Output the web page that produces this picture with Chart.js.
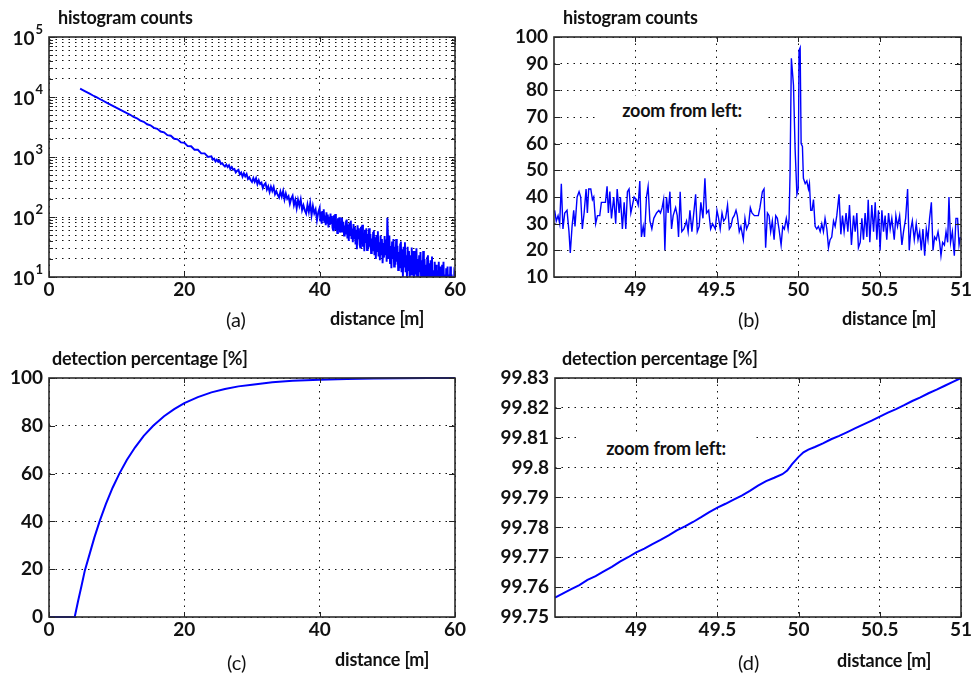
<!DOCTYPE html>
<html>
<head>
<meta charset="utf-8">
<script src="https://cdn.jsdelivr.net/npm/chart.js@4.4.0/dist/chart.umd.min.js"></script>
<style>
  html, body { margin: 0; padding: 0; background: #fff; }
  body { width: 976px; height: 675px; position: relative; overflow: hidden; font-family: Lato, "Open Sans", sans-serif; color: #111; }
  canvas { position: absolute; }
  .lbl { position: absolute; white-space: nowrap; font-weight: bold; font-size: 18px; line-height: 24px; height: 24px; letter-spacing: -0.2px; }
  .cap { font-weight: normal; font-size: 20px; letter-spacing: 0; }
  .note { background: #fff; text-align: center; }
</style>
</head>
<body>
<canvas id="chartA" width="488" height="337" style="left:0;top:0"></canvas>
<canvas id="chartB" width="488" height="337" style="left:488px;top:0"></canvas>
<canvas id="chartC" width="488" height="338" style="left:0;top:337px"></canvas>
<canvas id="chartD" width="488" height="338" style="left:488px;top:337px"></canvas>

<div class="lbl" style="left:58px;top:5px">histogram counts</div>
<div class="lbl" style="left:563px;top:5px">histogram counts</div>
<div class="lbl" style="left:52px;top:346px">detection percentage [%]</div>
<div class="lbl" style="left:562px;top:346px">detection percentage [%]</div>

<div class="lbl cap" style="left:226px;top:307px">(a)</div>
<div class="lbl" style="left:330px;top:306px">distance [m]</div>
<div class="lbl cap" style="left:738px;top:307px">(b)</div>
<div class="lbl" style="left:842px;top:306px">distance [m]</div>
<div class="lbl cap" style="left:227px;top:650px">(c)</div>
<div class="lbl" style="left:335px;top:647px">distance [m]</div>
<div class="lbl cap" style="left:738px;top:650px">(d)</div>
<div class="lbl" style="left:837px;top:648px">distance [m]</div>

<div class="lbl note" style="left:597px;top:96px;width:170px;height:28px;line-height:28px">zoom from left:</div>
<div class="lbl note" style="left:580px;top:434px;width:172px;height:28px;line-height:28px">zoom from left:</div>

<script>
// (a) histogram counts over the whole range, log scale
const distA = [
  4.6, 5, 5.5, 6, 6.5, 7, 7.5, 8, 8.5, 9, 9.5, 10, 10.5, 11, 11.5, 12, 12.5, 13, 13.5, 14,
  14.5, 15, 15.5, 16, 16.5, 17, 17.5, 18, 18.5, 19, 19.5, 20, 20.5, 21, 21.5, 22, 22.5, 23, 23.5,
  24, 24.2, 24.4, 24.6, 24.8, 25, 25.2, 25.4, 25.6, 25.8,
  26, 26.2, 26.4, 26.6, 26.8, 27, 27.2, 27.4, 27.6, 27.8,
  28, 28.2, 28.4, 28.6, 28.8, 29, 29.2, 29.4, 29.6, 29.8,
  30, 30.2, 30.4, 30.6, 30.8, 31, 31.2, 31.4, 31.6, 31.8,
  32, 32.2, 32.4, 32.6, 32.8, 33, 33.2, 33.4, 33.6, 33.8,
  34, 34.2, 34.4, 34.6, 34.8, 35, 35.2, 35.4, 35.6, 35.8,
  36, 36.2, 36.4, 36.6, 36.8, 37, 37.2, 37.4, 37.6, 37.8,
  38, 38.2, 38.4, 38.6, 38.8, 39, 39.2, 39.4, 39.6, 39.8,
  40, 40.1, 40.2, 40.3, 40.4, 40.5, 40.6, 40.7, 40.8, 40.9, 41, 41.1, 41.2, 41.3, 41.4, 41.5, 41.6, 41.7, 41.8, 41.9,
  42, 42.1, 42.2, 42.3, 42.4, 42.5, 42.6, 42.7, 42.8, 42.9, 43, 43.1, 43.2, 43.3, 43.4, 43.5, 43.6, 43.7, 43.8, 43.9,
  44, 44.1, 44.2, 44.3, 44.4, 44.5, 44.6, 44.7, 44.8, 44.9, 45, 45.1, 45.2, 45.3, 45.4, 45.5, 45.6, 45.7, 45.8, 45.9,
  46, 46.1, 46.2, 46.3, 46.4, 46.5, 46.6, 46.7, 46.8, 46.9, 47, 47.1, 47.2, 47.3, 47.4, 47.5, 47.6, 47.7, 47.8, 47.9,
  48, 48.1, 48.2, 48.3, 48.4, 48.5, 48.6, 48.7, 48.8, 48.9, 49, 49.1, 49.2, 49.3, 49.4, 49.5, 49.6, 49.7, 49.8, 49.9,
  50, 50.1, 50.2, 50.3, 50.4, 50.5, 50.6, 50.7, 50.8, 50.9, 51, 51.1, 51.2, 51.3, 51.4, 51.5, 51.6, 51.7, 51.8, 51.9,
  52, 52.1, 52.2, 52.3, 52.4, 52.5, 52.6, 52.7, 52.8, 52.9, 53, 53.1, 53.2, 53.3, 53.4, 53.5, 53.6, 53.7, 53.8, 53.9,
  54, 54.1, 54.2, 54.3, 54.4, 54.5, 54.6, 54.7, 54.8, 54.9, 55, 55.1, 55.2, 55.3, 55.4, 55.5, 55.6, 55.7, 55.8, 55.9,
  56, 56.1, 56.2, 56.3, 56.4, 56.5, 56.6, 56.7, 56.8, 56.9, 57, 57.1, 57.2, 57.3, 57.4, 57.5, 57.6, 57.7, 57.8, 57.9,
  58, 58.1, 58.2, 58.3, 58.4, 58.5, 58.6, 58.7, 58.8, 58.9, 59, 59.1, 59.2, 59.3, 59.4, 59.5, 59.6, 59.7, 59.8, 59.9,
  60
];
const countsA = [
  13800, 13050, 12200, 11400, 10600, 9920, 9270, 8650, 8080, 7550, 7050, 6590, 6150, 5750, 5370, 5050, 4640, 4410, 4040, 3860,
  3510, 3380, 3060, 2950, 2660, 2580, 2310, 2260, 2010, 1970, 1750, 1730, 1520, 1510, 1320, 1320, 1150, 1150, 1000,
  1022, 907, 940, 843, 905, 833, 873, 766, 789, 733,
  693, 748, 679, 728, 630, 681, 618, 631, 553, 589,
  610, 512, 551, 471, 536, 476, 522, 431, 459, 415,
  385, 445, 385, 441, 352, 408, 354, 373, 305, 345,
  367, 286, 324, 260, 320, 272, 316, 240, 268, 233,
  211, 266, 218, 270, 196, 247, 202, 222, 167, 203,
  226, 158, 193, 140, 194, 154, 196, 131, 157, 129,
  114, 161, 122, 169, 107, 152, 115, 134, 89, 120,
  142, 84, 122, 77, 126, 90, 135, 80, 106, 73, 120, 80, 110, 67, 101, 74, 114, 79, 104, 66,
  60, 107, 67, 112, 61, 88, 54, 95, 67, 99, 55, 84, 57, 97, 59, 83, 49, 72, 51, 84,
  91, 44, 75, 40, 79, 50, 87, 43, 64, 38, 76, 44, 68, 35, 61, 29, 73, 44, 65, 35,
  31, 69, 36, 74, 32, 54, 27, 61, 37, 65, 28, 52, 30, 65, 32, 52, 25, 44, 27, 54,
  60, 23, 46, 20, 50, 27, 58, 22, 38, 19, 49, 24, 43, 17, 37, 21, 48, 24, 42, 18,
  97, 45, 20, 49, 17, 33, 14, 39, 20, 43, 15, 32, 16, 43, 18, 33, 13, 26, 14, 35,
  39, 12, 29, 10, 32, 15, 38, 12, 23, 9.9, 32, 13, 27, 8.8, 23, 11, 31, 13, 27, 9.3,
  8.6, 27, 11, 30, 9.3, 20, 7.3, 23, 12, 26, 8, 19, 8.9, 27, 10, 20, 6.9, 16, 7.7, 21,
  23, 6.9, 17, 5.8, 19, 8.6, 22, 6.8, 13, 5.7, 18, 7.4, 16, 5.1, 13, 6.5, 18, 7.8, 15, 5.4,
  4.9, 16, 6.3, 18, 5.4, 11, 4.2, 14, 6.7, 15, 4.6, 11, 5.2, 15, 5.8, 11, 4, 9, 4.4, 12,
  11
];

// (b) histogram counts, zoom 48.5 .. 51 m
const distB = [
  48.504, 48.514, 48.525, 48.535, 48.545, 48.555, 48.566, 48.580, 48.592, 48.600,
  48.611, 48.621, 48.629, 48.642, 48.654, 48.664, 48.674, 48.685, 48.697, 48.705,
  48.713, 48.726, 48.736, 48.744, 48.756, 48.767, 48.781, 48.791, 48.804, 48.816,
  48.826, 48.834, 48.843, 48.853, 48.867, 48.879, 48.888, 48.900, 48.908, 48.920,
  48.931, 48.941, 48.951, 48.961, 48.972, 48.982, 48.992, 49.007, 49.017, 49.027,
  49.037, 49.048, 49.056, 49.068, 49.078, 49.089, 49.101, 49.113, 49.130, 49.144,
  49.154, 49.164, 49.173, 49.181, 49.191, 49.201, 49.212, 49.222, 49.232, 49.247,
  49.257, 49.265, 49.275, 49.285, 49.298, 49.314, 49.324, 49.335, 49.347, 49.357,
  49.370, 49.380, 49.392, 49.402, 49.415, 49.427, 49.437, 49.450, 49.462, 49.474,
  49.491, 49.501, 49.511, 49.521, 49.532, 49.542, 49.554, 49.566, 49.577, 49.587,
  49.597, 49.607, 49.618, 49.626, 49.638, 49.648, 49.663, 49.673, 49.683, 49.696,
  49.706, 49.716, 49.731, 49.745, 49.755, 49.765, 49.780, 49.790, 49.800, 49.811,
  49.821, 49.831, 49.841, 49.852, 49.862, 49.872, 49.882, 49.895, 49.905, 49.915,
  49.927, 49.938, 49.944, 49.950, 49.958, 49.971, 49.981, 49.992, 50.000, 50.005,
  50.012, 50.018, 50.026, 50.032, 50.043, 50.053, 50.063, 50.069, 50.077, 50.085,
  50.094, 50.104, 50.114, 50.124, 50.135, 50.145, 50.155, 50.165, 50.176, 50.186,
  50.196, 50.206, 50.217, 50.227, 50.237, 50.251, 50.262, 50.272, 50.282, 50.294,
  50.305, 50.315, 50.327, 50.340, 50.350, 50.360, 50.370, 50.381, 50.391, 50.401,
  50.411, 50.422, 50.430, 50.440, 50.452, 50.463, 50.473, 50.483, 50.493, 50.503,
  50.514, 50.524, 50.534, 50.544, 50.555, 50.565, 50.575, 50.590, 50.600, 50.610,
  50.623, 50.637, 50.647, 50.660, 50.672, 50.682, 50.692, 50.701, 50.713, 50.725,
  50.736, 50.746, 50.756, 50.766, 50.777, 50.787, 50.797, 50.807, 50.818, 50.828,
  50.838, 50.848, 50.859, 50.869, 50.877, 50.887, 50.898, 50.908, 50.918, 50.926,
  50.936, 50.947, 50.959, 50.969, 50.979, 50.988, 50.996
];
const countsB = [
  35, 31, 33, 30, 45, 28, 34, 35, 27, 19,
  29, 35, 29, 40, 42, 40, 28, 34, 43, 34,
  43, 43, 39, 40, 30, 33, 33, 38, 38, 38,
  44, 34, 42, 32, 40, 30, 43, 34, 40, 28,
  38, 28, 42, 43, 34, 37, 40, 39, 37, 46,
  25, 29, 25, 40, 44, 31, 28, 32, 34, 35,
  34, 36, 39, 20, 40, 34, 42, 28, 33, 36,
  33, 25, 42, 27, 28, 31, 27, 35, 27, 33,
  41, 27, 29, 38, 32, 47, 34, 35, 28, 30,
  28, 35, 32, 28, 34, 31, 32, 37, 28, 29,
  32, 33, 35, 33, 27, 29, 24, 32, 28, 30,
  36, 34, 33, 33, 33, 36, 42, 43, 21, 34,
  33, 27, 31, 24, 33, 32, 28, 22, 29, 28,
  32, 28, 32, 49, 92, 82, 58, 41, 43, 95,
  96, 60, 59, 47, 45, 46, 43, 45, 35, 35,
  39, 29, 28, 29, 27, 30, 27, 32, 28, 21,
  24, 25, 31, 29, 33, 41, 26, 33, 27, 34,
  27, 37, 22, 33, 27, 34, 21, 23, 32, 24,
  34, 25, 39, 23, 37, 27, 38, 24, 35, 20,
  35, 27, 33, 24, 34, 28, 32, 24, 33, 29,
  33, 22, 27, 32, 43, 20, 28, 31, 24, 30,
  24, 27, 20, 28, 18, 28, 24, 32, 38, 20,
  25, 24, 27, 23, 18, 23, 22, 27, 23, 40,
  23, 27, 18, 32, 32, 22, 25
];

// (c) cumulative detection percentage
const distC = [0, 3.8, 4.3, 4.8, 5.3, 6, 6.7, 7.5, 8.4, 9.4, 10.4, 11.5, 12.7, 14, 15.4, 17, 18.5, 20,
  22, 24, 26, 28, 30, 33, 36, 40, 44, 48, 52, 56, 60];
const percentC = [0, 0, 6.7, 13, 19.5, 26.3, 33.2, 40.2, 47.2, 54.1, 60, 65.7, 70.9, 75.8, 80, 84, 87, 89.5,
  92, 94, 95.4, 96.5, 97.2, 98.2, 98.9, 99.3, 99.6, 99.8, 99.9, 99.95, 100];

// (d) detection percentage, zoom 48.5 .. 51 m
const distD = [48.5, 48.55, 48.6, 48.65, 48.7, 48.75, 48.8, 48.85, 48.9, 48.95,
  49, 49.05, 49.1, 49.15, 49.2, 49.25, 49.3, 49.35, 49.4, 49.45,
  49.5, 49.55, 49.6, 49.65, 49.7, 49.75, 49.8, 49.85, 49.9, 49.93,
  49.96, 50, 50.03, 50.06, 50.1, 50.15, 50.2, 50.25, 50.3, 50.35,
  50.4, 50.45, 50.5, 50.55, 50.6, 50.65, 50.7, 50.75, 50.8, 50.85,
  50.9, 50.95, 51];
const percentD = [99.7565, 99.7579, 99.7593, 99.7607, 99.7624, 99.7637, 99.7653, 99.7668, 99.7685, 99.7700,
  99.7716, 99.7729, 99.7744, 99.7758, 99.7773, 99.7790, 99.7803, 99.7818, 99.7834, 99.7851,
  99.7866, 99.7879, 99.7893, 99.7906, 99.7922, 99.7940, 99.7955, 99.7966, 99.7978, 99.7990,
  99.8012, 99.8036, 99.8051, 99.8060, 99.8069, 99.8081, 99.8095, 99.8106, 99.8119, 99.8132,
  99.8145, 99.8157, 99.8171, 99.8184, 99.8196, 99.8209, 99.8223, 99.8235, 99.8249, 99.8261,
  99.8274, 99.8287, 99.8300];

// tick positions and labels
const xTicksWide = [0, 20, 40, 60];
const xLabelsWide = ['0', '20', '40', '60'];
const xTicksZoom = [49, 49.5, 50, 50.5, 51];
const xLabelsZoom = ['49', '49.5', '50', '50.5', '51'];
const yExpA = [1, 2, 3, 4, 5];
const yTicksB = [10, 20, 30, 40, 50, 60, 70, 80, 90, 100];
const yTicksC = [0, 20, 40, 60, 80, 100];
const yTicksD = [99.75, 99.76, 99.77, 99.78, 99.79, 99.8, 99.81, 99.82, 99.83];
const yLabelsD = ['99.75', '99.76', '99.77', '99.78', '99.79', '99.8', '99.81', '99.82', '99.83'];

const BLUE = '#0000ff';
const FONT = 'Lato, "Open Sans", sans-serif';
const tickFont = {family: FONT, size: 19, weight: 'bold'};

// minor grid for the log axis: 1..9 times each decade
const yTicksA = [];
for (const e of yExpA) {
  for (let m = 1; m <= 9; m++) {
    if (e === yExpA[yExpA.length - 1] && m > 1) break;
    yTicksA.push(m * Math.pow(10, e));
  }
}

function pairs(xs, ys) {
  return xs.map((x, i) => ({x: x, y: ys[i]}));
}

function axis(type, min, max, tickValues, labels, size, isY) {
  return {
    type: type,
    min: min,
    max: max,
    afterBuildTicks: scale => { scale.ticks = tickValues.map(v => ({value: v})); },
    afterFit: scale => { if (isY) scale.width = size; else scale.height = size; },
    grid: {color: '#111', lineWidth: 1, drawTicks: false},
    border: {display: false, dash: [1.5, 5]},
    ticks: {
      display: labels !== null,
      autoSkip: false,
      maxRotation: 0,
      color: '#111',
      padding: isY ? 6 : 1,
      font: tickFont,
      callback: (v, i) => labels ? labels[i] : ''
    }
  };
}

// box round the plot plus short solid tick marks on all four sides
const frame = {
  id: 'frame',
  afterDraw(chart) {
    const {ctx, chartArea: a, scales} = chart;
    ctx.save();
    ctx.strokeStyle = '#222';
    ctx.lineWidth = 1;
    ctx.beginPath();
    for (const t of scales.x.ticks) {
      const px = Math.round(scales.x.getPixelForValue(t.value)) + 0.5;
      ctx.moveTo(px, a.bottom); ctx.lineTo(px, a.bottom - 5);
      ctx.moveTo(px, a.top); ctx.lineTo(px, a.top + 5);
    }
    const isLog = scales.y.type === 'logarithmic';
    for (const t of scales.y.ticks) {
      const py = Math.round(scales.y.getPixelForValue(t.value)) + 0.5;
      const major = !isLog || Number.isInteger(Math.log10(t.value));
      const len = major ? 6 : 4;
      ctx.moveTo(a.left, py); ctx.lineTo(a.left + len, py);
      ctx.moveTo(a.right, py); ctx.lineTo(a.right - len, py);
    }
    ctx.stroke();
    ctx.lineWidth = 1.6;
    ctx.strokeStyle = '#2b2b2b';
    ctx.strokeRect(a.left, a.top, a.right - a.left, a.bottom - a.top);
    ctx.restore();
  }
};

// 10^n labels for the log axis of (a)
const powerLabels = {
  id: 'powerLabels',
  afterDraw(chart) {
    const {ctx, chartArea: a, scales: {y}} = chart;
    ctx.save();
    ctx.fillStyle = '#111';
    ctx.textAlign = 'right';
    for (const e of yExpA) {
      const py = y.getPixelForValue(Math.pow(10, e));
      ctx.font = 'bold 13px ' + FONT;
      const ew = ctx.measureText(String(e)).width;
      ctx.textBaseline = 'alphabetic';
      ctx.fillText(String(e), a.left - 6, py - 3);
      ctx.font = 'bold 19px ' + FONT;
      ctx.textBaseline = 'middle';
      ctx.fillText('10', a.left - 7 - ew, py + 2);
    }
    ctx.restore();
  }
};

function makeChart(id, points, width, scales, padding, clip, extraPlugins) {
  return new Chart(document.getElementById(id), {
    type: 'line',
    data: {
      datasets: [{
        data: points,
        borderColor: BLUE,
        borderWidth: width,
        pointRadius: 0,
        tension: 0,
        fill: false,
        clip: clip
      }]
    },
    options: {
      responsive: false,
      animation: false,
      events: [],
      parsing: false,
      layout: {padding: padding},
      scales: scales,
      plugins: {legend: {display: false}, tooltip: {enabled: false}}
    },
    plugins: [frame].concat(extraPlugins || [])
  });
}

makeChart('chartA', pairs(distA, countsA), 1.9, {
  x: axis('linear', 0, 60, xTicksWide, xLabelsWide, 30, false),
  y: axis('logarithmic', 10, 100000, yTicksA, null, 49, true)
}, {left: 0, top: 37, right: 33, bottom: 30}, true, [powerLabels]);

makeChart('chartB', pairs(distB, countsB), 1.4, {
  x: axis('linear', 48.5, 51, xTicksZoom, xLabelsZoom, 30, false),
  y: axis('linear', 10, 100, yTicksB, yTicksB.map(String), 66, true)
}, {left: 0, top: 37, right: 15, bottom: 30}, true);

makeChart('chartC', pairs(distC, percentC), 2, {
  x: axis('linear', 0, 60, xTicksWide, xLabelsWide, 30, false),
  y: axis('linear', 0, 100, yTicksC, yTicksC.map(String), 49, true)
}, {left: 0, top: 41, right: 33, bottom: 28}, 3);

makeChart('chartD', pairs(distD, percentD), 2, {
  x: axis('linear', 48.5, 51, xTicksZoom, xLabelsZoom, 30, false),
  y: axis('linear', 99.75, 99.83, yTicksD, yLabelsD, 67, true)
}, {left: 0, top: 41, right: 15, bottom: 28}, 3);
</script>
</body>
</html>
